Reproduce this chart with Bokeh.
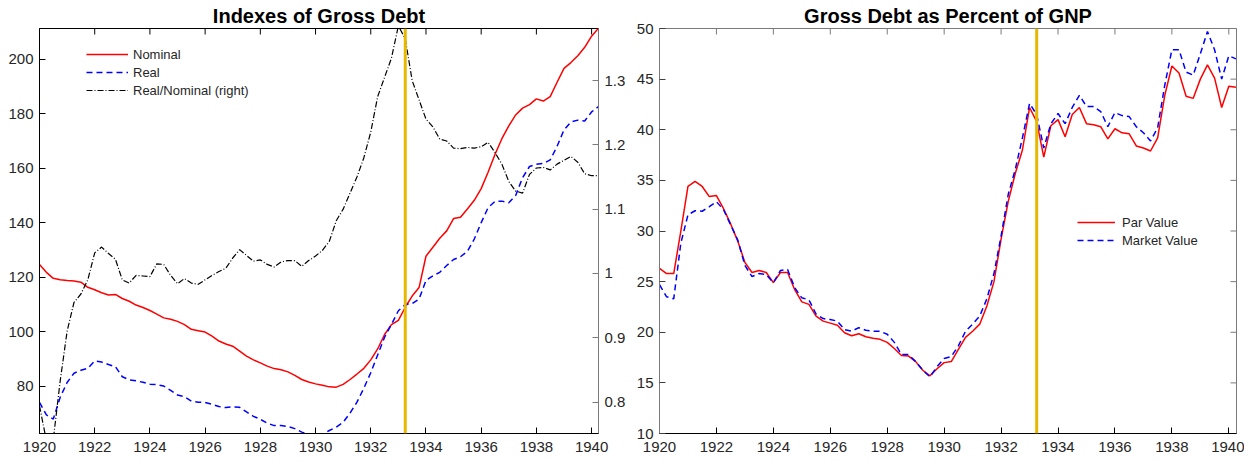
import math
from bokeh.plotting import figure
from bokeh.models import Range1d, LinearAxis, FixedTicker, Span, Legend, LegendItem
from bokeh.layouts import row
from bokeh.embed import file_html
from bokeh.resources import INLINE

# ---------------- data (quarterly, 1920Q1 .. 1940Q2) ----------------
quarters = [y + q / 4 for y in range(1920, 1941) for q in range(4)][:82]

nominal = [124.7, 121.8, 119.6, 119.1, 118.8, 118.6, 118.2, 116.3, 115.4, 114.3,
           113.5, 113.7, 112.2, 111.2, 109.8, 108.9, 107.8, 106.5, 105.1, 104.6,
           103.8, 102.6, 100.9, 100.4, 99.9, 98.4, 96.6, 95.5, 94.7, 92.9,
           91.1, 89.7, 88.6, 87.4, 86.5, 86.1, 85.3, 84.0, 82.5, 81.6,
           80.9, 80.4, 79.8, 79.7, 80.7, 82.5, 84.5, 86.6, 89.7, 93.7,
           99.0, 102.6, 104.2, 109.0, 113.1, 116.2, 127.7, 131.0, 134.3, 137.0,
           141.5, 142.0, 145.0, 148.2, 152.5, 158.5, 165.0, 170.8, 175.5, 179.5,
           182.0, 183.3, 185.4, 184.6, 186.2, 191.5, 196.6, 198.7, 201.2, 204.3,
           208.4, 211.3]

real = [74.1, 69.5, 68.0, 76.0, 81.4, 84.8, 85.9, 86.6, 89.3, 88.9,
        88.0, 87.2, 83.5, 82.4, 82.0, 81.5, 80.8, 80.6, 80.1, 78.5,
        76.8, 76.2, 74.6, 74.2, 74.1, 73.4, 72.6, 72.2, 72.5, 72.3,
        70.6, 69.0, 67.9, 66.5, 65.6, 65.6, 65.3, 64.5, 63.2, 62.4,
        62.0, 62.4, 63.8, 65.0, 66.8, 70.2, 74.2, 79.3, 85.0, 91.5,
        98.0, 102.7, 107.7, 110.0, 110.3, 112.0, 118.8, 120.5, 121.8, 124.3,
        126.5, 127.5, 129.5, 134.0, 140.0, 145.5, 147.8, 147.9, 147.3, 150.0,
        156.5, 160.6, 161.4, 161.7, 163.0, 168.0, 174.0, 176.9, 177.6, 177.3,
        180.6, 182.6]

ratio = [0.794, 0.740, 0.742, 0.833, 0.910, 0.955, 0.968, 0.990, 1.032, 1.041,
         1.031, 1.022, 0.990, 0.985, 0.997, 0.996, 0.995, 1.015, 1.014, 0.997,
         0.984, 0.992, 0.985, 0.983, 0.990, 0.997, 1.003, 1.008, 1.024, 1.037,
         1.028, 1.019, 1.021, 1.014, 1.010, 1.018, 1.020, 1.020, 1.011, 1.020,
         1.027, 1.036, 1.050, 1.082, 1.100, 1.125, 1.150, 1.180, 1.220, 1.275,
         1.305, 1.335, 1.385, 1.365, 1.300, 1.270, 1.240, 1.228, 1.209, 1.206,
         1.195, 1.194, 1.196, 1.195, 1.197, 1.204, 1.188, 1.170, 1.143, 1.128,
         1.125, 1.154, 1.164, 1.165, 1.161, 1.170, 1.176, 1.182, 1.173, 1.155,
         1.152, 1.152]

par_value = [26.3, 25.8, 25.8, 30.0, 34.4, 34.9, 34.4, 33.4, 33.5, 32.2,
             30.7, 29.0, 26.9, 25.9, 26.1, 25.9, 24.9, 25.9, 25.9, 24.2,
             23.0, 22.75, 21.6, 21.1, 20.9, 20.7, 19.95, 19.65, 19.85, 19.55,
             19.4, 19.3, 19.0, 18.4, 17.7, 17.65, 17.1, 16.25, 15.7, 16.4,
             17.0, 17.1, 18.3, 19.5, 20.1, 20.8, 22.6, 25.0, 29.2, 32.9,
             35.7, 38.0, 42.2, 40.8, 37.3, 40.4, 41.0, 39.3, 41.5, 42.2,
             40.6, 40.5, 40.3, 39.1, 40.1, 39.7, 39.6, 38.4, 38.2, 37.9,
             39.2, 43.4, 46.3, 45.6, 43.3, 43.1, 45.0, 46.4, 45.1, 42.2,
             44.3, 44.2]

market_value = [24.7, 23.5, 23.3, 28.8, 31.6, 32.0, 31.95, 32.4, 32.9, 32.1,
                30.6, 29.1, 26.6, 25.5, 25.8, 25.7, 24.9, 26.1, 26.2, 24.4,
                23.4, 23.2, 21.8, 21.35, 21.25, 21.1, 20.25, 20.1, 20.45, 20.2,
                20.1, 20.1, 19.8, 19.0, 17.8, 17.8, 17.1, 16.25, 15.6, 16.6,
                17.4, 17.6, 18.65, 20.1, 20.8, 21.6, 23.3, 25.8, 29.5, 33.6,
                36.1, 39.2, 42.6, 41.5, 38.2, 40.6, 41.6, 40.6, 42.2, 43.4,
                42.3, 42.3, 41.8, 40.3, 41.7, 41.4, 41.3, 40.3, 39.7, 38.9,
                40.2, 44.4, 47.9, 47.9, 45.7, 45.4, 47.5, 49.7, 47.9, 45.0,
                47.3, 47.0]

event_date = 1933.25
x_start, x_end_left, x_end_right = 1920, 1940.25, 1940.27
left_lim = (62.7, 211.2)
ratio_lim = (0.751, 1.381)
pct_lim = (10, 50)
x_ticks = [1920, 1922, 1924, 1926, 1928, 1930, 1932, 1934, 1936, 1938, 1940]
left_ticks = [80, 100, 120, 140, 160, 180, 200]
ratio_ticks = [0.8, 0.9, 1.0, 1.1, 1.2, 1.3]
pct_ticks = [10, 15, 20, 25, 30, 35, 40, 45, 50]

FONT = "Liberation Sans"
TXT = "#262626"
GOLD = "#E6B800"
GRAY = "#7a7a7a"


def style_axis(ax, color="black"):
    ax.axis_line_color = color
    ax.axis_line_width = 1
    ax.major_tick_in = 6
    ax.major_tick_out = 0
    ax.major_tick_line_color = color
    ax.minor_tick_line_color = None
    ax.major_label_text_font = FONT
    ax.major_label_text_color = TXT
    ax.major_label_text_font_size = "15px"
    ax.major_label_standoff = 6


def base_fig(width, x_end, y_lim, ml, mr, title, top_color):
    p = figure(width=width, height=461, x_range=Range1d(x_start, x_end),
               y_range=Range1d(*y_lim), title=title,
               output_backend="svg", toolbar_location=None,
               min_border_left=ml, min_border_right=mr, min_border_top=27, min_border_bottom=28)
    p.xgrid.visible = False
    p.ygrid.visible = False
    p.outline_line_color = top_color
    p.outline_line_width = 1
    p.background_fill_color = "white"
    p.xaxis.ticker = FixedTicker(ticks=x_ticks)
    for ax in p.xaxis + p.yaxis:
        style_axis(ax)
    p.xaxis.major_label_standoff = 8
    p.title.align = "center"
    p.title.text_font = FONT
    p.title.text_font_size = "20px"
    p.title.text_font_style = "bold"
    p.title.text_color = "black"
    p.title.standoff = 4
    # mirrored inward ticks along the top edge (half of each dash is clipped by the frame)
    p.scatter(x_ticks, [y_lim[1]] * len(x_ticks), marker="dash", size=12,
              angle=math.pi / 2, line_color=top_color, line_width=1)
    return p


# ---------------- left panel ----------------
p1 = base_fig(628, x_end_left, left_lim, 39, 30, "Indexes of Gross Debt", "black")
p1.yaxis.ticker = FixedTicker(ticks=left_ticks)
p1.extra_y_ranges = {"ratio": Range1d(*ratio_lim)}
rax = LinearAxis(y_range_name="ratio", ticker=FixedTicker(ticks=ratio_ticks),
                 major_label_overrides={1: "1"})
style_axis(rax, color=GRAY)
p1.add_layout(rax, "right")

r_nom = p1.line(quarters, nominal, line_color="#FF0000", line_width=1.5)
r_real = p1.line(quarters, real, line_color="#0000FF", line_width=1.5, line_dash="6 4")
r_ratio = p1.line(quarters, ratio, line_color="black", line_width=1.2,
                  line_dash="6 2 1 2", y_range_name="ratio")
p1.add_layout(Span(location=event_date, dimension="height", line_color=GOLD, line_width=3))

leg1 = Legend(items=[LegendItem(label="Nominal", renderers=[r_nom]),
                     LegendItem(label="Real", renderers=[r_real]),
                     LegendItem(label="Real/Nominal (right)", renderers=[r_ratio])],
              location=(47, 334), padding=0, spacing=0, margin=0,
              label_height=18, glyph_height=18, glyph_width=42, label_standoff=5,
              label_text_font=FONT, label_text_font_size="13px", label_text_color=TXT,
              border_line_alpha=0, background_fill_alpha=0)
p1.add_layout(leg1)

# ---------------- right panel ----------------
p2 = base_fig(616, x_end_right, pct_lim, 31, 8, "Gross Debt as Percent of GNP", GRAY)
p2.yaxis.ticker = FixedTicker(ticks=pct_ticks)
p2.yaxis.axis_line_color = GRAY
p2.yaxis.major_tick_line_color = "#404040"
p2.xaxis.axis_line_color = "black"
# mirrored inward ticks on the right edge
p2.scatter([x_end_right] * len(pct_ticks), pct_ticks, marker="dash", size=12,
           line_color=GRAY, line_width=1)

r_par = p2.line(quarters, par_value, line_color="#FF0000", line_width=1.5)
r_mkt = p2.line(quarters, market_value, line_color="#0000FF", line_width=1.5, line_dash="6 4")
p2.add_layout(Span(location=event_date, dimension="height", line_color=GOLD, line_width=3))

leg2 = Legend(items=[LegendItem(label="Par Value", renderers=[r_par]),
                     LegendItem(label="Market Value", renderers=[r_mkt])],
              location=(418, 184), padding=0, spacing=0, margin=0,
              label_height=18, glyph_height=18, glyph_width=38, label_standoff=7,
              label_text_font=FONT, label_text_font_size="13px", label_text_color=TXT,
              border_line_alpha=0, background_fill_alpha=0)
p2.add_layout(leg2)

layout = row(p1, p2)
open("out.html", "w").write(file_html(layout, INLINE))
